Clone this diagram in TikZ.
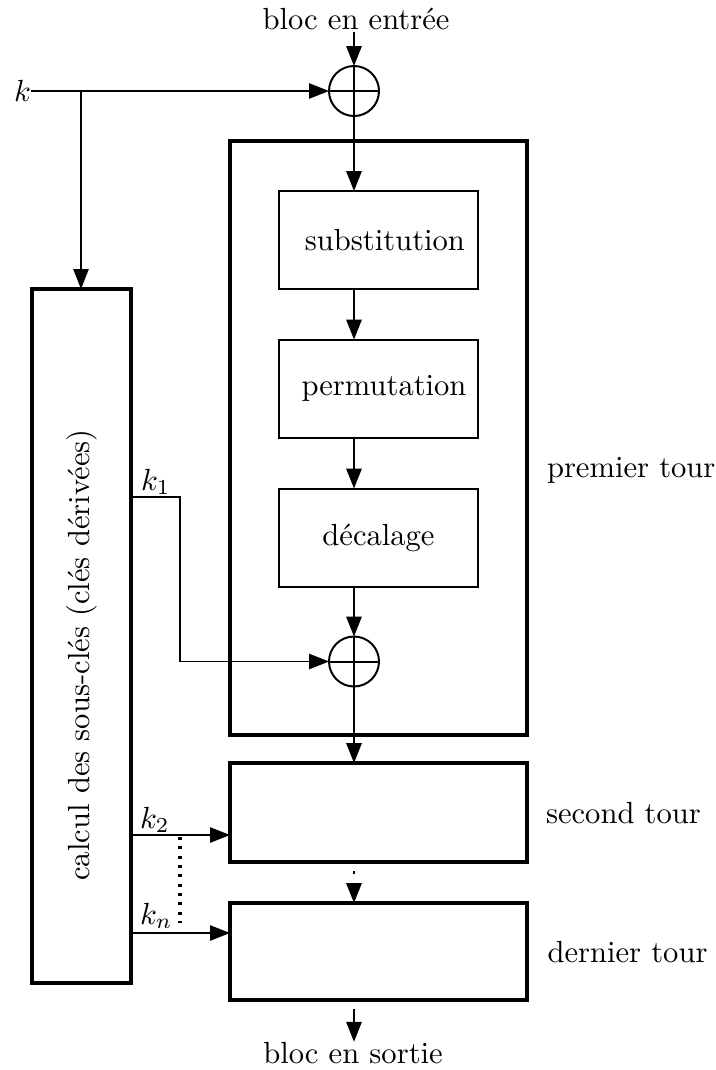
\documentclass[tikz,border=0pt]{standalone}
\usetikzlibrary{arrows.meta}
\newlength\upx
\setlength\upx{0.327pt}
\begin{document}
\begin{tikzpicture}[x=0.327pt,y=-0.327pt,
  >={Triangle[length=6.5pt,width=5pt]},
  kline/.style={line width=0.45pt},
  flow/.style={line width=0.65pt},
  tourbox/.style={draw,line width=1.6pt,inner sep=0pt,outer sep=0pt,minimum width=297\upx},
  stepbox/.style={draw,line width=0.65pt,inner sep=0pt,outer sep=0pt,minimum width=199\upx,minimum height=98\upx},
  xorop/.style={draw,circle,line width=0.65pt,inner sep=0pt,outer sep=0pt,minimum size=50\upx},
  txt/.style={inner sep=0pt,outer sep=0pt},
  dotline/.style={line width=1.1pt,dash pattern=on 1pt off 2.05pt}
]
\useasboundingbox (0,0) rectangle (716,1070);

% boxes
\node[draw,line width=1.6pt,inner sep=0pt,outer sep=0pt,minimum width=99\upx,minimum height=694\upx] (key) at (81.5,636) {};
\node[txt,rotate=90] (keytxt) at (81.7,655) {calcul des sous-cl\'es (cl\'es d\'eriv\'ees)};
\node[tourbox,minimum height=594\upx] (tour1) at (378.5,438) {};
\node[tourbox,minimum height=99\upx] (tour2) at (378.5,812.5) {};
\node[tourbox,minimum height=97\upx] (tour3) at (378.5,951.5) {};

\node[stepbox,label={[xshift=2.1pt]center:substitution}] (sub) at (378.5,240) {};
\node[stepbox,label={[xshift=1.8pt]center:permutation}] (perm) at (378.5,388.5) {};
\node[stepbox,label={[xshift=0pt]center:d\'ecalage}] (dec) at (378.5,537.5) {};

\node[xorop] (x1) at (354,91) {};
\node[xorop] (x2) at (354,661.5) {};
\draw[flow] (x1.north) -- (x1.south) (x1.west) -- (x1.east);
\draw[flow] (x2.north) -- (x2.south) (x2.west) -- (x2.east);

% texts
\node[txt,anchor=base] (in) at (356,29) {bloc en entr\'ee};
\node[txt,anchor=base] (out) at (353,1063) {bloc en sortie};
\node[txt,anchor=east] (k) at (31,91) {$k$};
\node[txt,anchor=base west] (k1) at (141,490) {$k_1$};
\node[txt,anchor=base west] (k2) at (140,828) {$k_2$};
\node[txt,anchor=base west] (kn) at (140,924) {$k_n$};
\node[txt,anchor=base west] (t1) at (547,477) {premier tour};
\node[txt,anchor=base west] (t2) at (546,823) {second tour};
\node[txt,anchor=base west] (t3) at (547.5,962) {dernier tour};

% coordinates
\coordinate (kb) at (81,91);
\coordinate (inst) at (354,32);
\coordinate (k1a) at (131,497);
\coordinate (k1b) at (180,497);
\coordinate (k1c) at (180,661.5);
\coordinate (k2a) at (131,835);
\coordinate (k2b) at (230,835);
\coordinate (kna) at (131,933);
\coordinate (knb) at (230,933);
\coordinate (dta) at (180,837);
\coordinate (dtb) at (180,923);
\coordinate (ma) at (354,871);
\coordinate (oa) at (354,1009);

% connectors
\draw[kline,->] (k.east) -- (x1.west);
\draw[kline,->] (kb) -- (kb |- key.north);
\draw[flow,->] (inst) -- (x1.north);
\draw[flow,->] (x1.south) -- (x1.south |- sub.north);
\draw[flow,->] (x1.south |- sub.south) -- (x1.south |- perm.north);
\draw[flow,->] (x1.south |- perm.south) -- (x1.south |- dec.north);
\draw[flow,->] (x2.north |- dec.south) -- (x2.north);
\draw[flow,->] (x2.south) -- (x2.south |- tour2.north);
\draw[kline,->] (k1a) -- (k1b) -- (k1c) -- (x2.west);
\draw[kline,->] (k2a) -- (k2b);
\draw[kline,->] (kna) -- (knb);
\draw[dotline] (dta) -- (dtb);
\draw[flow,dash pattern=on 1pt off 20pt,->] (ma) -- (ma |- tour3.north);
\draw[flow,->] (oa) -- (oa |- out.north);
\end{tikzpicture}
\end{document}
